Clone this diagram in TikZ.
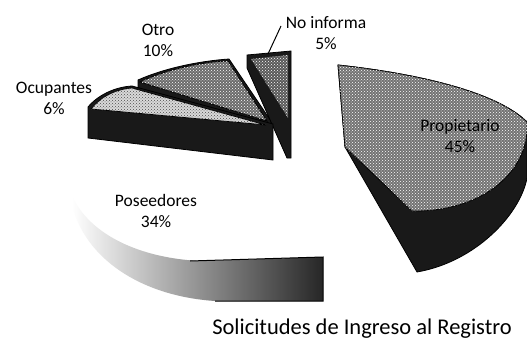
\documentclass[tikz,border=0pt]{standalone}
\usepackage{fontspec}
\setmainfont{Carlito}
\usetikzlibrary{patterns}
\tikzset{
  wallface/.style={fill=black!90, draw=black, line width=0.8pt},
  topface/.style={draw=black, line width=0.8pt},
  speck/.style={pattern=crosshatch dots, pattern color=white},
  darkspeck/.style={pattern=crosshatch dots, pattern color=black!70},
  lbl/.style={font=\fontsize{17.5}{21}\selectfont, align=center, inner sep=0pt, text=black},
}
\begin{document}
\begin{tikzpicture}[x=1pt,y=-1pt]
\useasboundingbox (0,0) rectangle (527,342);
\fill[white] (0,0) rectangle (527,342);

% Otro
\path[wallface] (138,80) .. controls (165,68) and (200,61) .. (229,59) -- (271,121) -- (272,133) -- (138,93) -- cycle;
\path[topface, fill=black!58] (140,82) .. controls (165,70) and (200,62) .. (228,61) -- (267,121) -- cycle;
\fill[speck] (140,82) .. controls (165,70) and (200,62) .. (228,61) -- (267,121) -- cycle;

% No informa
\path[wallface] (247,55) -- (291,51) -- (291,158) -- (287,158) -- (247,68) -- cycle;
\path[fill=black!65] (251,59) -- (288,55) -- (288,118) -- cycle;
\fill[speck] (251,59) -- (288,55) -- (288,118) -- cycle;

% Ocupantes
\path[wallface] (88,107) .. controls (98,95) and (115,87) .. (132,86) -- (273,124) -- (273,160) -- (88,138) -- cycle;
\path[topface, fill=black!15] (91,109) .. controls (100,97) and (116,89) .. (132,88) -- (266,125) -- cycle;
\fill[darkspeck] (91,109) .. controls (100,97) and (116,89) .. (132,88) -- (266,125) -- cycle;

% Poseedores (side wall, faded)
\path[left color=white, middle color=black!40, right color=black!85]
  (72,196) .. controls (90,235) and (140,258) .. (200,261) -- (323,257) -- (323,301) -- (215,301)
  .. controls (140,296) and (85,258) .. (72,205) -- cycle;
\draw[line width=1pt] (190,261) -- (323,257) -- (323,301) -- (215,301);

% Propietario
\path[wallface] (338,65) .. controls (430,75) and (500,95) .. (527,122) -- (527,178)
  .. controls (520,215) and (475,262) .. (417,272) -- (345,147) -- cycle;
\path[topface, fill=black!55] (338,65) .. controls (430,75) and (500,95) .. (527,122)
  .. controls (530,172) and (482,212) .. (412,211) -- (345,147) -- cycle;
\fill[speck] (338,65) .. controls (430,75) and (500,95) .. (527,122)
  .. controls (530,172) and (482,212) .. (412,211) -- (345,147) -- cycle;

% Labels
\node[lbl] (otro) at (158,40) {Otro\\10\%};
\node[lbl] (noinf) at (326,33) {No informa\\5\%};
\node[lbl] (ocup) at (54,98) {Ocupantes\\6\%};
\node[lbl] (pose) at (156,211) {Poseedores\\34\%};
\node[lbl] (prop) at (460,136) {Propietario\\45\%};
\coordinate (ldA) at (281,26);
\coordinate (ldB) at (268,54);
\draw[line width=1pt] (ldA) -- (ldB);

\node[font=\fontsize{22.5}{27}\selectfont, anchor=base, inner sep=0pt] (title) at (362,334) {Solicitudes de Ingreso al Registro};
\end{tikzpicture}
\end{document}
